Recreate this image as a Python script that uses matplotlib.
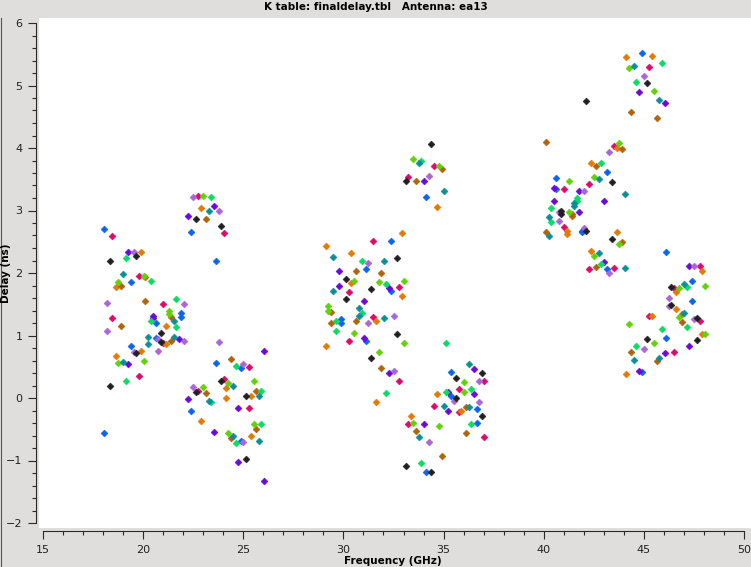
import matplotlib
matplotlib.use('Agg')
import matplotlib.pyplot as plt
from matplotlib.ticker import MultipleLocator
from matplotlib.lines import Line2D

# K table delays for antenna ea13, one list pair per colour (freq GHz, delay ns)
blue_f = [18.07, 19.37, 21.87, 21.87, 20.62, 20.62, 19.37, 18.07, 22.37, 23.62, 23.62, 24.87, 22.37, 24.87,
          34.12, 32.37, 31.12, 32.37, 29.87, 29.87, 31.12, 35.37, 35.37, 36.67, 36.67, 34.12,
          44.92, 43.17, 40.62, 40.62, 41.92, 41.92, 43.17, 46.12, 47.42, 47.42, 46.12, 44.92]
blue_d = [2.70, 1.85, 1.36, 1.29, 1.20, 0.96, 0.84, -0.56, 2.65, 2.20, 0.56, 0.48, -0.21, -0.68,
          3.21, 2.51, 2.06, 1.71, 1.26, 1.20, 0.91, 0.41, 0.04, -0.18, -0.40, -1.19,
          5.52, 3.61, 3.52, 3.34, 2.68, 2.65, 2.06, 2.33, 1.88, 1.55, 0.96, 0.41]

crimson_f = [18.47, 19.77, 20.97, 18.47, 20.97, 19.77, 22.72, 24.02, 25.27, 24.02, 22.72, 25.27,
             34.52, 33.22, 31.47, 32.77, 30.27, 31.47, 30.27, 32.77, 37.02, 35.77, 34.52, 35.77, 33.22, 37.02,
             45.27, 43.52, 42.27, 41.02, 41.02, 42.27, 43.52, 47.82, 46.52, 45.27, 47.82, 46.52]
crimson_d = [2.59, 1.96, 1.50, 1.28, 0.88, 0.36, 3.23, 2.64, 0.49, 0.30, 0.12, -0.16,
             3.72, 3.53, 2.52, 1.77, 1.69, 1.29, 0.92, 0.27, 0.27, 0.14, -0.12, -0.23, -0.42, -0.63,
             5.29, 4.03, 3.42, 3.34, 2.73, 2.06, 2.08, 2.12, 1.76, 1.32, 1.24, 0.73]

purple_f = [19.22, 20.47, 20.47, 21.77, 19.22, 23.52, 22.22, 26.02, 22.22, 24.72, 23.52, 24.72, 26.02,
            34.02, 29.77, 29.77, 32.27, 31.02, 31.02, 32.27, 36.52, 35.22, 36.52, 35.22, 34.02,
            44.77, 46.07, 40.52, 41.77, 40.52, 43.02, 41.77, 43.02, 47.27, 47.27, 46.07, 44.77]
purple_d = [2.33, 1.31, 1.28, 0.94, 0.54, 3.08, 2.92, 0.76, -0.02, -0.16, -0.55, -1.03, -1.32,
            3.47, 2.03, 1.80, 1.76, 1.56, 0.96, 0.40, 0.46, 0.09, 0.06, -0.20, -0.42,
            4.89, 4.72, 3.36, 3.32, 3.15, 3.16, 2.97, 2.17, 2.11, 0.83, 0.72, 0.44]

lilac_f = [19.52, 18.22, 22.02, 20.72, 22.02, 18.22, 19.52, 20.72, 23.77, 22.47, 23.77, 24.97, 22.47, 24.97,
           34.27, 31.22, 32.52, 31.22, 32.52, 36.77, 35.52, 36.77, 34.27,
           45.02, 43.27, 42.02, 40.77, 40.77, 42.02, 43.27, 47.52, 46.27, 46.27, 47.52, 45.02]
lilac_d = [2.33, 1.52, 1.50, 0.94, 0.92, 1.07, 0.73, 0.75, 0.89, 3.21, 2.99, 0.54, 0.17, -0.71,
           3.55, 2.16, 1.32, 1.20, 0.43, 0.28, -0.04, -0.07, -0.71,
           5.15, 3.93, 3.32, 2.97, 2.83, 2.72, 2.00, 2.12, 1.60, 1.48, 1.26, 0.78]

orange_f = [19.87, 18.62, 21.12, 21.12, 19.87, 18.62, 22.87, 24.12, 25.37, 24.12, 22.87, 25.37,
            34.67, 32.92, 29.12, 30.37, 30.37, 32.92, 31.62, 29.12, 31.62, 34.67, 35.87, 33.37,
            44.12, 45.42, 42.37, 43.67, 41.17, 41.17, 43.67, 42.37, 47.92, 46.62, 46.62, 45.42, 47.92, 44.12]
orange_d = [2.33, 1.77, 1.15, 0.86, 0.75, 0.67, 3.04, 0.16, 0.04, 0.00, -0.37, -0.61,
            3.05, 2.64, 2.43, 2.32, 1.84, 1.64, 1.23, 0.83, -0.07, 0.06, -0.20, -0.29,
            5.45, 5.47, 3.76, 4.00, 2.67, 2.62, 2.65, 2.36, 2.04, 1.69, 1.42, 1.32, 1.02, 0.38]

brown_f = [20.07, 18.87, 20.07, 21.37, 18.87, 21.37, 24.37, 23.12, 23.12, 25.62, 24.37, 25.62,
           34.92, 33.62, 30.62, 31.87, 29.37, 30.62, 29.37, 31.87, 33.62, 36.12, 36.12, 34.92,
           44.37, 45.67, 40.12, 43.92, 42.62, 41.42, 41.42, 40.12, 43.92, 42.62, 46.92, 46.92, 44.37, 45.67]
brown_d = [1.93, 1.80, 1.55, 1.29, 1.15, 0.91, 0.62, 2.86, 0.08, 0.12, -0.64, -0.49,
           3.66, 3.47, 2.03, 2.00, 1.37, 1.24, 1.20, 0.48, -0.52, -0.15, -0.56, -0.93,
           4.57, 4.48, 4.09, 3.98, 3.72, 2.94, 2.91, 2.65, 2.49, 2.09, 1.34, 1.22, 0.73, 0.59]

green_f = [19.12, 20.37, 21.62, 20.37, 21.62, 19.12, 23.37, 24.62, 25.87, 23.37, 24.62, 25.87,
           33.87, 30.92, 32.12, 30.92, 29.62, 29.62, 35.12, 32.12, 36.37, 35.12, 36.37, 33.87,
           45.92, 44.62, 42.87, 41.67, 41.67, 40.37, 40.37, 42.87, 47.17, 47.17, 45.92, 44.62]
green_d = [2.24, 1.88, 1.58, 1.24, 1.13, 0.27, 3.21, 0.52, 0.12, -0.07, -0.72, -0.42,
           3.79, 2.20, 1.82, 1.36, 1.23, 1.08, 0.88, 0.08, 0.14, 0.09, -0.42, -1.04,
           5.36, 5.06, 3.76, 3.20, 3.15, 3.04, 2.81, 2.14, 1.77, 1.13, 1.10, 0.83]

lime_f = [20.02, 18.72, 21.27, 21.27, 18.72, 20.02, 22.97, 24.22, 25.52, 22.97, 24.22, 25.52,
          33.47, 34.77, 30.52, 31.77, 33.02, 29.22, 29.22, 30.52, 33.02, 31.77, 36.02, 36.02, 33.47, 34.77,
          44.27, 45.52, 43.77, 42.52, 41.27, 41.27, 43.77, 42.52, 46.77, 48.07, 46.77, 44.27, 48.07, 45.52]
lime_d = [1.95, 1.85, 1.40, 1.34, 0.56, 0.59, 3.24, 0.24, 0.27, 0.17, -0.56, -0.42,
          3.82, 3.71, 1.87, 1.85, 1.88, 1.48, 1.40, 1.04, 0.88, 0.73, 0.25, 0.09, -0.40, -0.45,
          5.28, 4.91, 4.08, 3.53, 3.48, 2.97, 2.46, 2.27, 1.76, 1.80, 1.29, 1.18, 1.02, 0.88]

teal_f = [18.97, 21.52, 20.22, 21.52, 20.22, 18.97, 23.27, 24.47, 25.77, 23.27, 24.47, 25.77,
          33.77, 35.02, 29.47, 32.02, 29.47, 30.77, 30.77, 32.02, 36.27, 35.02, 36.27, 33.77,
          44.52, 45.77, 42.77, 44.07, 41.52, 41.52, 40.27, 40.27, 42.77, 44.07, 47.02, 47.02, 45.77, 44.52]
teal_d = [1.98, 1.23, 0.97, 0.97, 0.86, 0.57, 2.99, 0.20, 0.04, -0.04, -0.60, -0.69,
          3.76, 3.31, 2.25, 2.19, 1.72, 1.44, 1.31, 1.28, 0.54, -0.13, -0.15, -0.63,
          5.32, 4.77, 3.50, 3.26, 3.12, 3.07, 2.89, 2.60, 2.32, 2.08, 1.82, 1.36, 0.64, 0.61]

black_f = [19.62, 18.37, 20.87, 20.87, 19.62, 18.37, 22.62, 23.87, 23.87, 22.62, 25.12, 25.12,
           34.37, 33.12, 32.67, 30.12, 31.37, 30.12, 32.67, 31.37, 36.92, 35.62, 35.62, 36.92, 33.12, 34.37,
           45.17, 42.12, 43.42, 40.87, 40.87, 42.12, 43.42, 46.37, 46.37, 47.67, 47.67, 45.17]
black_d = [2.27, 2.20, 1.04, 0.89, 0.72, 0.19, 2.86, 2.76, 0.27, 0.09, 0.03, -0.98,
           4.06, 3.48, 2.24, 1.90, 1.74, 1.58, 1.02, 0.64, 0.40, 0.32, 0.00, -0.28, -1.09, -1.19,
           5.04, 4.75, 3.45, 2.99, 2.94, 2.67, 2.54, 1.77, 1.49, 1.28, 0.93, 0.94]

series = [
    (blue_f, blue_d, '#0a64f0'),
    (crimson_f, crimson_d, '#e0086a'),
    (purple_f, purple_d, '#6c08dc'),
    (lilac_f, lilac_d, '#a866d6'),
    (orange_f, orange_d, '#e27a06'),
    (brown_f, brown_d, '#b0640a'),
    (green_f, green_d, '#08dc62'),
    (lime_f, lime_d, '#62d208'),
    (teal_f, teal_d, '#0a8f98'),
    (black_f, black_d, '#202020'),
]

bg = '#dfdedc'
axc = '#2a2a2a'

fig = plt.figure(figsize=(7.51, 5.67), dpi=100, facecolor=bg)
W, H = 751, 567
# white plot area: x 39..751, y 18..528 px
ax = fig.add_axes([39 / W, 1 - 528 / H, 712 / W, 510 / H])
ax.set_facecolor('white')

for f, d, c in series:
    ax.plot(f, d, linestyle='none', marker='D', markersize=3.5,
            markerfacecolor=c, markeredgecolor=c, markeredgewidth=0.4)

# 15..50 GHz spans px 43..744, 6..-2 ns spans px 23..523
px_x = 35 / 701
px_y = 8 / 500
ax.set_xlim(15 - 4 * px_x, 50 + 7 * px_x)
ax.set_ylim(-2 - 5 * px_y, 6 + 5 * px_y)

for s in ['top', 'right']:
    ax.spines[s].set_visible(False)
ax.spines['left'].set_position(('outward', 2.2))
ax.spines['bottom'].set_position(('outward', 2.2))
ax.spines['left'].set_bounds(-2, 6)
ax.spines['bottom'].set_bounds(15, 50)
for s in ['left', 'bottom']:
    ax.spines[s].set_color(axc)
    ax.spines[s].set_linewidth(0.8)

ax.xaxis.set_major_locator(MultipleLocator(5))
ax.xaxis.set_minor_locator(MultipleLocator(1))
ax.yaxis.set_major_locator(MultipleLocator(1))
ax.yaxis.set_minor_locator(MultipleLocator(0.2))
ax.tick_params(which='major', direction='out', length=5.8, width=0.8, color=axc,
               labelsize=8, labelcolor='#222222', pad=4)
ax.tick_params(which='minor', direction='out', length=2.9, width=0.8, color=axc)

# axis titles placed in window pixels like the original viewer
fig.text(393 / W, 1 - 561 / H, 'Frequency (GHz)', ha='center', va='center',
         fontsize=7.5, fontweight='bold')
fig.text(6 / W, 1 - 273 / H, 'Delay (ns)', ha='center', va='center', rotation=90,
         fontsize=7.5, fontweight='bold')
fig.text(0.5, 1 - 7 / H, 'K table: finaldelay.tbl   Antenna: ea13', ha='center', va='center',
         fontsize=7.5, fontweight='bold')

# thin dark frame line on the left edge of the window
fig.add_artist(Line2D([0.5 / W, 0.5 / W], [0, 1 - 18 / H], color='#555555', linewidth=0.8))

fig.savefig('out.png', dpi=100, facecolor=bg)
